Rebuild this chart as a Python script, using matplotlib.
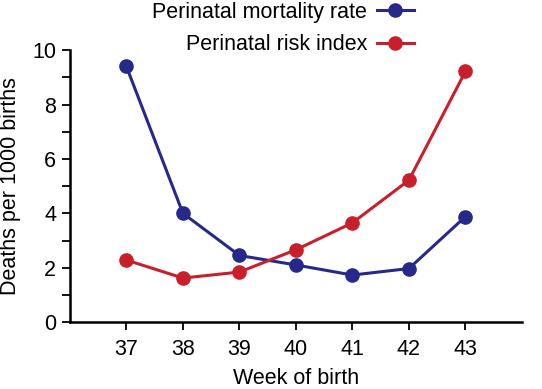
import matplotlib.pyplot as plt
from matplotlib.ticker import MultipleLocator

plt.rcParams['font.family'] = ['Liberation Sans', 'DejaVu Sans']

weeks = [37, 38, 39, 40, 41, 42, 43]
mortality_rate = [9.4, 4.0, 2.45, 2.1, 1.73, 1.97, 3.88]
risk_index = [2.28, 1.62, 1.84, 2.66, 3.65, 5.22, 9.22]

blue = '#27298a'
red = '#c81f2a'
fs = 15.5

fig = plt.figure(figsize=(5.42, 3.89), dpi=100)
ax = fig.add_axes([0.129, 0.172, 0.834, 0.699])

ax.plot(weeks, mortality_rate, color=blue, lw=2.2, marker='o', ms=9.5,
        label='Perinatal mortality rate', clip_on=False)
ax.plot(weeks, risk_index, color=red, lw=2.2, marker='o', ms=9.5,
        label='Perinatal risk index', clip_on=False)

ax.set_xlim(36, 44)
ax.set_ylim(0, 10)
ax.set_xticks(weeks)
ax.yaxis.set_major_locator(MultipleLocator(2))
ax.yaxis.set_minor_locator(MultipleLocator(1))

for s in ['top', 'right']:
    ax.spines[s].set_visible(False)
ax.spines['left'].set_linewidth(1.8)
ax.spines['bottom'].set_linewidth(1.8)

ax.tick_params(which='both', direction='out', length=6, width=1.3, labelsize=fs)
ax.tick_params(axis='y', pad=4)
ax.tick_params(axis='x', pad=6)

ax.set_xlabel('Week of birth', fontsize=fs, labelpad=6)
ax.set_ylabel('Deaths per 1000 births', fontsize=fs, labelpad=8)

ax.legend(loc='upper right', bbox_to_anchor=(0.783, 1.023), bbox_transform=fig.transFigure,
          markerfirst=False, frameon=False, fontsize=fs, handlelength=1.7,
          borderpad=0, labelspacing=0.53, handletextpad=0.45)

fig.savefig('out.png', dpi=100)
